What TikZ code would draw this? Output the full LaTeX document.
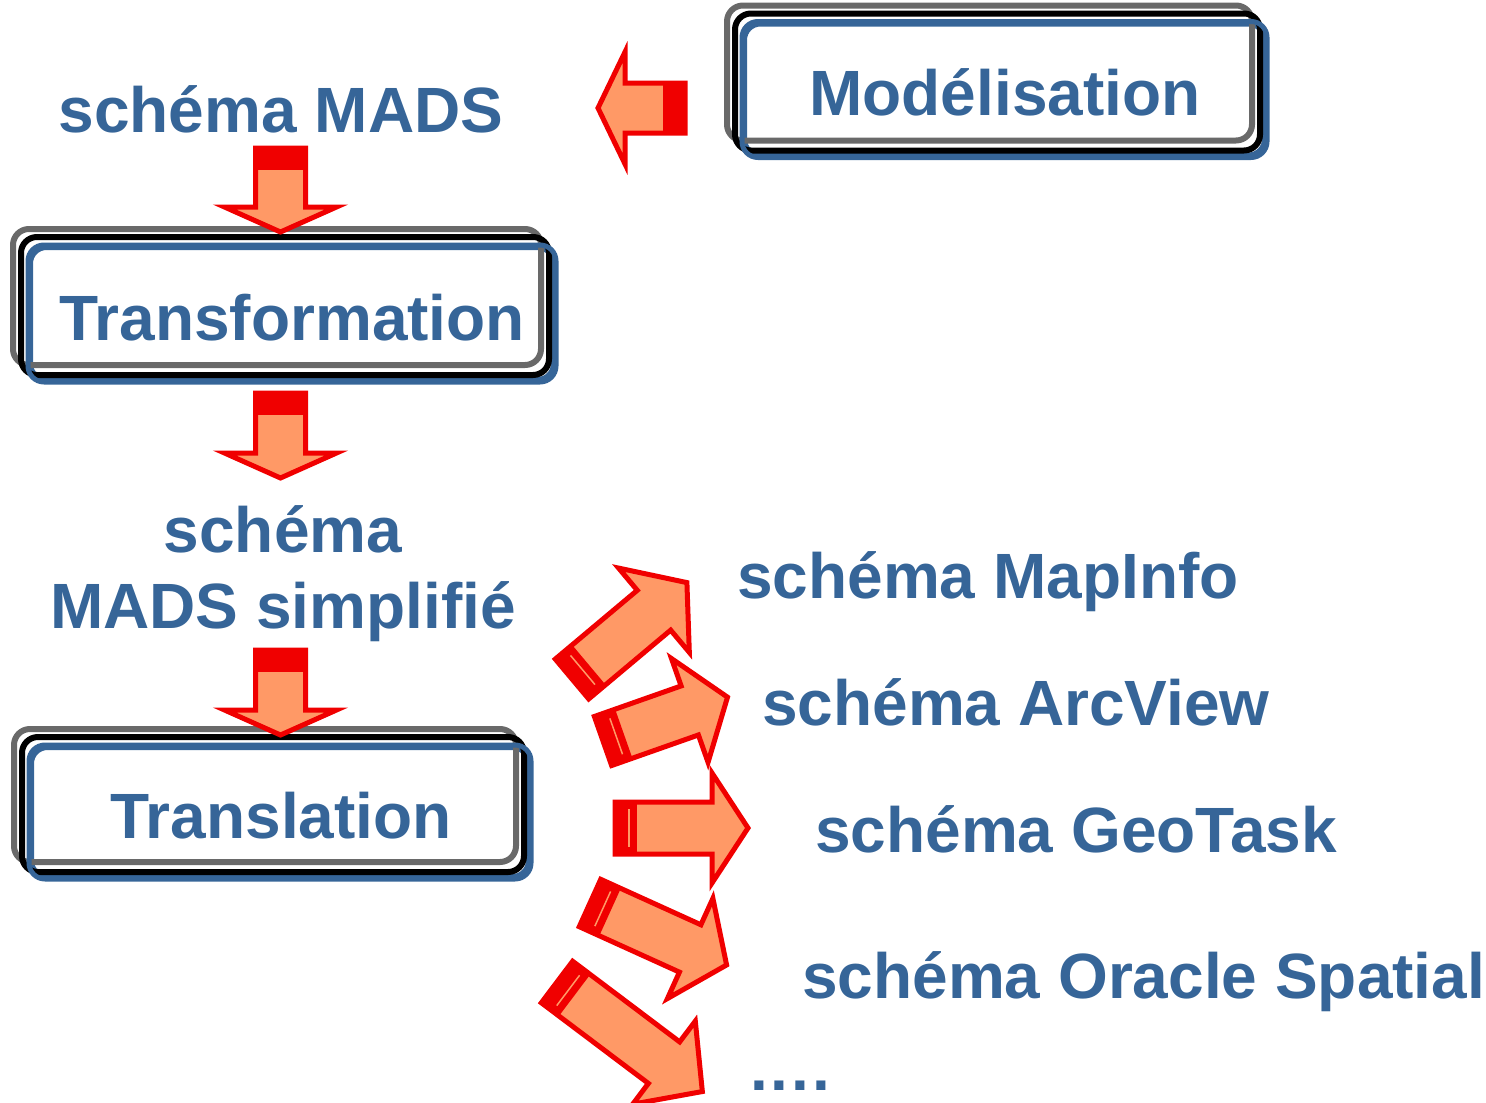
\documentclass[tikz,border=0pt]{standalone}
\usepackage{fontspec}
\setmainfont{Liberation Sans}
\usepackage{xcolor}
\definecolor{madsblue}{RGB}{54,101,152}
\definecolor{arrowred}{RGB}{240,0,0}
\definecolor{arrowfill}{RGB}{255,153,102}
\definecolor{framegray}{RGB}{105,105,105}

% tail, angle, length, head length, shaft half width, head half width, stripe colour
\newcommand{\blockarrow}[7]{%
  \begin{scope}[shift={(#1)}, rotate=#2]
    \filldraw[arrowpath] (0,-#5) -- ({#3-#4},-#5) -- ({#3-#4},-#6) -- (#3,0)
      -- ({#3-#4},#6) -- ({#3-#4},#5) -- (0,#5) -- cycle;
    \fill[arrowred] (0,-#5) rectangle (22,#5);
    \draw[#7, line width=1.5] (14,{-#5+7}) -- (14,{#5-7});
  \end{scope}}

\begin{document}
\begin{tikzpicture}[x=1pt, y=-1pt,
  blue text/.style={text=madsblue, font=\fontsize{64}{76}\selectfont\bfseries, inner sep=0pt},
  stagebox/.style={draw=madsblue, line width=5, rounded corners=16, blue text},
  grayframe/.style={draw=framegray, line width=6, rounded corners=16},
  blackframe/.style={draw=black, line width=6, rounded corners=16},
  arrowpath/.style={draw=arrowred, fill=arrowfill, line width=5, line join=miter}
  ]
  \useasboundingbox (0,0) rectangle (1486,1103);

  % boxes
  \node[stagebox, minimum width=520, minimum height=131] (model) at (1004.5,89.5) {};
  \node[stagebox, minimum width=523, minimum height=132] (transform) at (292,313.5) {};
  \node[stagebox, minimum width=497, minimum height=129] (translate) at (280,812) {};
  \foreach \b in {model, transform, translate} {
    \draw[grayframe] ([shift={(-15,-16)}]\b.north west) rectangle ([shift={(-15,-17)}]\b.south east);
    \draw[blackframe] ([shift={(-7,-8)}]\b.north west) rectangle ([shift={(-7,-7)}]\b.south east);
    \draw[stagebox] (\b.north west) rectangle (\b.south east);
  }
  \node[blue text, anchor=base] at (1005,115) {Modélisation};
  \node[blue text, anchor=base] at (292,340) {Transformation};
  \node[blue text, anchor=base] at (281,838) {Translation};

  % schemas
  \node[blue text, anchor=base] (mads) at (281,132) {schéma MADS};
  \node[blue text, anchor=base] (simple1) at (283,552) {schéma};
  \node[blue text, anchor=base] (simple2) at (283,628) {MADS simplifié};
  \node[blue text, anchor=base west] (mapinfo) at (737,598) {schéma MapInfo};
  \node[blue text, anchor=base west] (arcview) at (762,725) {schéma ArcView};
  \node[blue text, anchor=base west] (geotask) at (815,852) {schéma GeoTask};
  \node[blue text, anchor=base west] (oracle) at (802,998) {schéma Oracle Spatial};
  \node[blue text, anchor=base west] (others) at (750,1090) {.\kern3pt.\kern3pt.\kern3pt.};

  % arrows
  \blockarrow{685,108}{180}{87}{27}{25}{56}{arrowred}
  \blockarrow{280.5,148}{-90}{84}{25}{25}{56}{arrowred}
  \blockarrow{280.5,393}{-90}{85}{25}{25}{56}{arrowred}
  \blockarrow{280.5,650}{-90}{85}{25}{25}{56}{arrowred}
  \blockarrow{572,679}{40}{150}{43}{26}{55}{arrowfill}
  \blockarrow{603,741}{19.4}{132}{40}{26}{55}{arrowfill}
  \blockarrow{615,828}{0}{133}{36}{26}{55}{arrowfill}
  \blockarrow{590,903}{-24.4}{150}{40}{26}{55}{arrowfill}
  \blockarrow{557,982}{-37}{182}{48}{26}{52}{arrowfill}
\end{tikzpicture}
\end{document}
